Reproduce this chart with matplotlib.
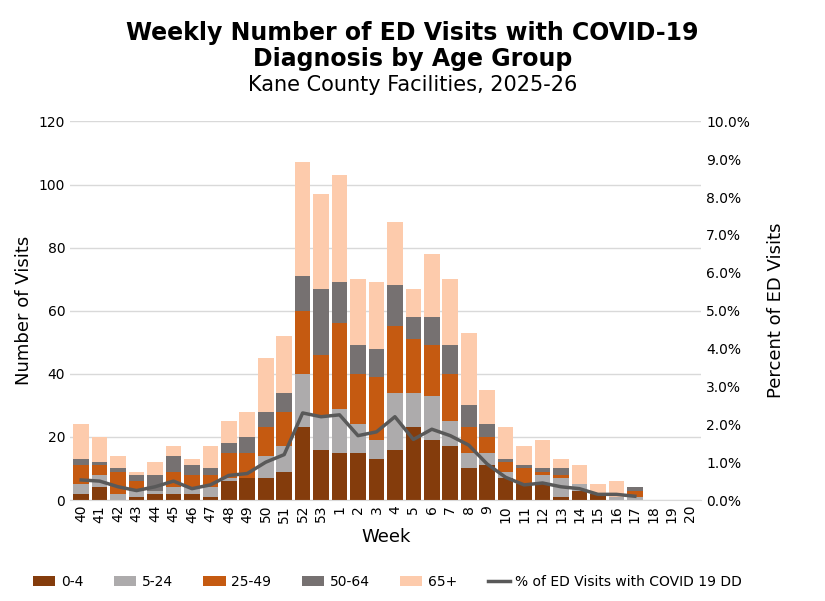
import numpy as np
import matplotlib.pyplot as plt

weeks = [str(w) for w in list(range(40, 54)) + list(range(1, 21))]

# cumulative tops, per age group
top_04 = [2, 4, 0, 1, 2, 2, 2, 1, 6, 7, 7, 9, 23, 16, 15, 15, 13, 16, 23, 19, 17, 10, 11, 7, 5, 5, 1, 3, 2, 0, 0, 0, 0, 0]
top_524 = [5, 8, 2, 3, 3, 4, 4, 4, 7, 7, 14, 17, 40, 27, 29, 24, 19, 34, 34, 33, 25, 15, 15, 9, 5, 8, 7, 5, 2, 1, 1, 0, 0, 0]
top_2549 = [11, 11, 9, 6, 3, 9, 8, 8, 15, 15, 23, 28, 60, 46, 56, 40, 39, 55, 51, 49, 40, 23, 20, 12, 10, 9, 8, 5, 2, 1, 3, 0, 0, 0]
top_5064 = [13, 12, 10, 8, 8, 14, 11, 10, 18, 20, 28, 34, 71, 67, 69, 49, 48, 68, 58, 58, 49, 30, 24, 13, 11, 10, 10, 5, 2, 1, 4, 0, 0, 0]
top_65 = [24, 20, 14, 9, 12, 17, 13, 17, 25, 28, 45, 52, 107, 97, 103, 70, 69, 88, 67, 78, 70, 53, 35, 23, 17, 19, 13, 11, 5, 6, 4, 0, 0, 0]
pct = [0.53, 0.5, 0.35, 0.25, 0.35, 0.5, 0.3, 0.4, 0.65, 0.7, 1.0, 1.2, 2.3, 2.2, 2.25, 1.7, 1.8, 2.2, 1.6, 1.87, 1.7, 1.45, 0.95,
       0.6, 0.4, 0.45, 0.35, 0.3, 0.15, 0.15, 0.1]

tops = [top_04, top_524, top_2549, top_5064, top_65]
labels = ['0-4', '5-24', '25-49', '50-64', '65+']
colors = ['#843C0C', '#ADABAC', '#C55A11', '#767171', '#FDCBAC']

fig = plt.figure(figsize=(8.25, 6.01), dpi=100)
ax = fig.add_axes([0.085, 0.168, 0.765, 0.63])
x = np.arange(len(weeks))
prev = np.zeros(len(weeks))
for t, lab, c in zip(tops, labels, colors):
    t = np.array(t, dtype=float)
    ax.bar(x, t - prev, bottom=prev, width=0.85, color=c, label=lab, zorder=2)
    prev = t

ax.set_ylim(0, 120)
ax.set_yticks(range(0, 121, 20))
ax.set_xlim(-0.6, len(weeks) - 0.4)
ax.set_xticks(x)
ax.set_xticklabels(weeks, rotation=90)
ax.grid(axis='y', color='#D9D9D9', lw=1, zorder=0)
for s in ['top', 'right', 'left']:
    ax.spines[s].set_visible(False)
ax.spines['bottom'].set_color('#D9D9D9')
ax.tick_params(length=0, labelsize=10)
ax.set_ylabel('Number of Visits', fontsize=13)
ax.set_xlabel('Week', fontsize=13)

ax2 = ax.twinx()
ax2.plot(x[:len(pct)], pct, color='#595959', lw=2.5, label='% of ED Visits with COVID 19 DD', zorder=3)
ax2.set_ylim(0, 10)
ax2.set_yticks(np.arange(0, 10.1, 1))
ax2.set_yticklabels(['%.1f%%' % v for v in np.arange(0, 10.1, 1)])
for s in ax2.spines.values():
    s.set_visible(False)
ax2.tick_params(length=0, labelsize=10)
ax2.set_ylabel('Percent of ED Visits', fontsize=13, labelpad=12)

h1, l1 = ax.get_legend_handles_labels()
h2, l2 = ax2.get_legend_handles_labels()
fig.legend(h1 + h2, l1 + l2, loc='lower center', ncol=6, frameon=False, fontsize=10,
           bbox_to_anchor=(0.47, 0.0), handlelength=1.6, columnspacing=2.2, handletextpad=0.4)

fig.text(0.5, 0.965, 'Weekly Number of ED Visits with COVID-19\nDiagnosis by Age Group', ha='center', va='top',
         fontsize=17, fontweight='bold', linespacing=1.1)
fig.text(0.5, 0.875, 'Kane County Facilities, 2025-26', ha='center', va='top', fontsize=15)

fig.savefig('out.png', dpi=100)
